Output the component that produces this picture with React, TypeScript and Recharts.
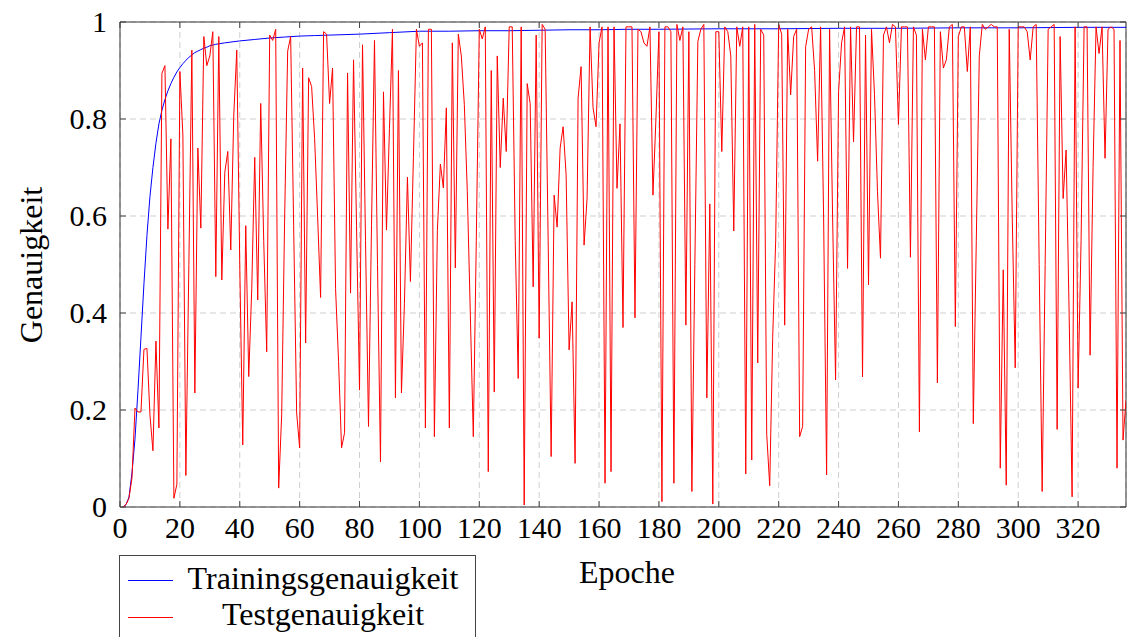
import { LineChart, Line, XAxis, YAxis, CartesianGrid, ReferenceArea } from "recharts";

const FONT = "'Liberation Serif', 'DejaVu Serif', serif";
const PLOT_TOP = 22;
const PLOT_BOTTOM = 507;
const PLOT_LEFT = 120;
const PLOT_RIGHT = 1126;

const X_TICKS = [0, 20, 40, 60, 80, 100, 120, 140, 160, 180, 200, 220, 240, 260, 280, 300, 320];
const Y_TICKS = [0, 0.2, 0.4, 0.6, 0.8, 1];

const TRAIN_EPOCHS = [
  1, 2, 3, 4, 5, 6, 7, 8, 9, 10, 11, 12, 13, 14, 15, 16, 17, 18, 19, 20, 21, 22, 23, 24, 25, 26, 27, 28, 29, 30,
  32, 35, 40, 45, 50, 55, 60, 65, 70, 80, 90, 100, 110, 120, 130, 140, 150, 160, 170, 180, 200, 220, 240, 260,
  280, 300, 320, 336,
];
const TRAIN_ACC = [
  0, 0.005, 0.02, 0.07, 0.14, 0.24, 0.35, 0.46, 0.56, 0.64, 0.7, 0.75, 0.79, 0.818, 0.84, 0.858, 0.873, 0.886,
  0.897, 0.906, 0.914, 0.921, 0.927, 0.932, 0.937, 0.94, 0.943, 0.946, 0.948, 0.951, 0.954, 0.957, 0.961, 0.964,
  0.967, 0.969, 0.971, 0.972, 0.973, 0.975, 0.978, 0.981, 0.981, 0.982, 0.982, 0.983, 0.984, 0.984, 0.985, 0.985,
  0.986, 0.986, 0.987, 0.987, 0.988, 0.988, 0.989, 0.989,
];

// test accuracy, one value per epoch starting at epoch 1
const TEST_ACC = [
  0, 0.005, 0.018, 0.06, 0.204, 0.196, 0.196, 0.325, 0.327, 0.19,
  0.116, 0.342, 0.163, 0.894, 0.91, 0.573, 0.759, 0.018, 0.047, 0.898,
  0.767, 0.065, 0.5, 0.942, 0.235, 0.74, 0.575, 0.97, 0.91, 0.93,
  0.98, 0.475, 0.97, 0.468, 0.69, 0.733, 0.53, 0.808, 0.942, 0.5,
  0.128, 0.58, 0.269, 0.45, 0.721, 0.427, 0.832, 0.55, 0.32, 0.973,
  0.962, 0.985, 0.039, 0.19, 0.6, 0.94, 0.97, 0.58, 0.194, 0.122,
  0.905, 0.338, 0.885, 0.867, 0.76, 0.6, 0.432, 0.98, 0.975, 0.832,
  0.905, 0.45, 0.3, 0.122, 0.153, 0.895, 0.441, 0.922, 0.58, 0.241,
  0.953, 0.55, 0.166, 0.58, 0.962, 0.5, 0.093, 0.856, 0.571, 0.78,
  0.985, 0.225, 0.9, 0.235, 0.42, 0.68, 0.465, 0.72, 0.985, 0.95,
  0.957, 0.163, 0.985, 0.985, 0.145, 0.57, 0.707, 0.658, 0.823, 0.163,
  0.957, 0.493, 0.975, 0.93, 0.83, 0.65, 0.4, 0.145, 0.55, 0.985,
  0.965, 0.99, 0.073, 0.9, 0.237, 0.93, 0.7, 0.843, 0.733, 0.99,
  0.99, 0.55, 0.265, 0.99, 0.004, 0.873, 0.832, 0.454, 0.973, 0.348,
  0.995, 0.985, 0.55, 0.104, 0.643, 0.577, 0.74, 0.784, 0.685, 0.324,
  0.423, 0.09, 0.843, 0.908, 0.54, 0.636, 0.99, 0.823, 0.784, 0.957,
  0.99, 0.049, 0.99, 0.073, 0.99, 0.657, 0.79, 0.37, 0.99, 0.99,
  0.99, 0.39, 0.985, 0.98, 0.957, 0.95, 0.99, 0.643, 0.8, 0.98,
  0.011, 0.99, 0.99, 0.98, 0.049, 0.995, 0.962, 0.99, 0.375, 0.98,
  0.032, 0.5, 0.96, 0.985, 0.995, 0.225, 0.625, 0.006, 0.98, 0.98,
  0.733, 0.99, 0.98, 0.93, 0.569, 0.99, 0.95, 0.99, 0.068, 0.99,
  0.097, 0.995, 0.297, 0.985, 0.973, 0.15, 0.044, 0.35, 0.55, 0.995,
  0.975, 0.375, 0.985, 0.85, 0.97, 0.985, 0.145, 0.166, 0.949, 0.985,
  0.99, 0.9, 0.713, 0.99, 0.6, 0.066, 0.985, 0.6, 0.262, 0.856,
  0.957, 0.99, 0.492, 0.99, 0.753, 0.99, 0.99, 0.268, 0.973, 0.458,
  0.985, 0.85, 0.65, 0.513, 0.973, 0.99, 0.957, 0.995, 0.99, 0.789,
  0.99, 0.99, 0.99, 0.515, 0.99, 0.973, 0.155, 0.985, 0.922, 0.99,
  0.99, 0.99, 0.256, 0.98, 0.905, 0.922, 0.99, 0.995, 0.372, 0.97,
  0.99, 0.99, 0.898, 0.99, 0.172, 0.55, 0.93, 0.995, 0.985, 0.99,
  0.995, 0.99, 0.99, 0.08, 0.489, 0.045, 0.985, 0.6, 0.287, 0.99,
  0.99, 0.99, 0.98, 0.922, 0.99, 0.995, 0.5, 0.032, 0.5, 0.985,
  0.99, 0.995, 0.16, 0.97, 0.636, 0.736, 0.4, 0.021, 0.99, 0.245,
  0.55, 0.99, 0.99, 0.313, 0.7, 0.99, 0.935, 0.99, 0.719, 0.985,
  0.99, 0.985, 0.08, 0.962, 0.138, 0.22,
];

const trainData = TRAIN_EPOCHS.map((epoch, i) => ({ epoch, acc: TRAIN_ACC[i] }));
const testData = TEST_ACC.map((acc, i) => ({ epoch: i + 1, acc }));

function XTick({ x, payload }: { x: number; payload: { value: number } }) {
  return (
    <g>
      <line x1={x} x2={x} y1={PLOT_BOTTOM} y2={PLOT_BOTTOM - 6} stroke="#444" />
      <line x1={x} x2={x} y1={PLOT_TOP} y2={PLOT_TOP + 6} stroke="#444" />
      <text x={x} y={538} textAnchor="middle" fontFamily={FONT} fontSize={30} fill="#000">
        {payload.value}
      </text>
    </g>
  );
}

function YTick({ y, payload }: { y: number; payload: { value: number } }) {
  return (
    <g>
      <line x1={PLOT_LEFT} x2={PLOT_LEFT + 6} y1={y} y2={y} stroke="#444" />
      <line x1={PLOT_RIGHT} x2={PLOT_RIGHT - 6} y1={y} y2={y} stroke="#444" />
      <text x={107} y={y + 10} textAnchor="end" fontFamily={FONT} fontSize={30} fill="#000">
        {payload.value}
      </text>
    </g>
  );
}

export default function App() {
  return (
    <div style={{ position: "absolute", left: 0, top: 0, width: 1127, height: 637, background: "#fff", overflow: "hidden" }}>
      <LineChart width={1127} height={637} margin={{ top: PLOT_TOP, right: 1, bottom: 0, left: 0 }}>
        <CartesianGrid stroke="#cfcfcf" strokeDasharray="6 4" />
        <XAxis
          dataKey="epoch"
          type="number"
          domain={[0, 336]}
          ticks={X_TICKS}
          height={130}
          axisLine={false}
          tickLine={false}
          tick={XTick}
          allowDataOverflow
        />
        <YAxis
          type="number"
          domain={[0, 1]}
          ticks={Y_TICKS}
          width={120}
          axisLine={false}
          tickLine={false}
          tick={YTick}
        />
        <Line data={trainData} dataKey="acc" type="linear" stroke="#0000ff" strokeWidth={1} dot={false} isAnimationActive={false} />
        <Line data={testData} dataKey="acc" type="linear" stroke="#ff0000" strokeWidth={1} dot={false} isAnimationActive={false} />
        <ReferenceArea x1={0} x2={336} y1={0} y2={1} fill="none" stroke="#333" strokeWidth={1} />
      </LineChart>

      <div
        style={{
          position: "absolute",
          left: 31,
          top: 265,
          transform: "translate(-50%, -50%) rotate(-90deg)",
          fontFamily: FONT,
          fontSize: 32,
          whiteSpace: "nowrap",
        }}
      >
        Genauigkeit
      </div>
      <div
        style={{
          position: "absolute",
          left: 627,
          top: 572,
          transform: "translate(-50%, -50%)",
          fontFamily: FONT,
          fontSize: 32,
          whiteSpace: "nowrap",
        }}
      >
        Epoche
      </div>

      <div
        style={{
          position: "absolute",
          left: 119,
          top: 555,
          width: 355,
          height: 110,
          border: "1px solid #444",
          background: "#fff",
          fontFamily: FONT,
          fontSize: 32,
          lineHeight: "36px",
        }}
      >
        <div style={{ position: "absolute", left: 8, top: 24, width: 45, borderTop: "1px solid #0000ff" }} />
        <div style={{ position: "absolute", left: 8, top: 61, width: 45, borderTop: "1px solid #ff0000" }} />
        <div style={{ position: "absolute", left: 58, width: 290, top: 4, textAlign: "center", whiteSpace: "nowrap" }}>
          Trainingsgenauigkeit
        </div>
        <div style={{ position: "absolute", left: 58, width: 290, top: 40, textAlign: "center", whiteSpace: "nowrap" }}>
          Testgenauigkeit
        </div>
      </div>
    </div>
  );
}
